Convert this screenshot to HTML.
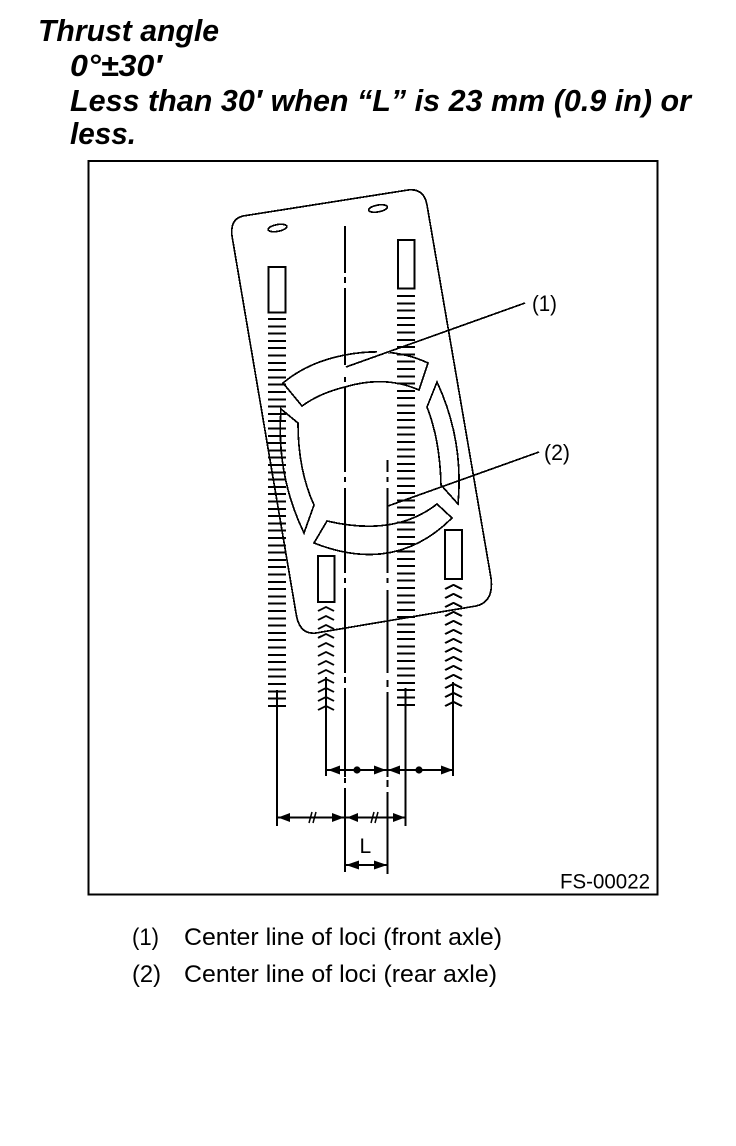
<!DOCTYPE html>
<html>
<head>
<meta charset="utf-8">
<style>
html,body{margin:0;padding:0;background:#fff;width:736px;height:1146px;overflow:hidden}
svg{display:block}
text{font-family:"Liberation Sans",sans-serif;fill:#000}
.t{font-weight:bold;font-style:italic;font-size:31px}
.c{font-size:24px}
.n{font-size:22px}
.s{fill:none;stroke:#000;stroke-width:1.7;shape-rendering:crispEdges}
.l{stroke:#000;stroke-width:1.7;fill:none;shape-rendering:crispEdges}
</style>
</head>
<body>
<svg width="736" height="1146" viewBox="0 0 736 1146" xmlns="http://www.w3.org/2000/svg">
<rect width="736" height="1146" fill="#fff"/>
<text class="t" x="38" y="41" textLength="181" lengthAdjust="spacingAndGlyphs">Thrust angle</text>
<text class="t" x="70" y="76" textLength="92" lengthAdjust="spacingAndGlyphs">0°±30′</text>
<text class="t" x="70" y="111" textLength="621" lengthAdjust="spacingAndGlyphs">Less than 30′ when “L” is 23 mm (0.9 in) or</text>
<text class="t" x="70" y="144" textLength="66" lengthAdjust="spacingAndGlyphs">less.</text>

<rect x="88.5" y="161" width="569" height="733.5" fill="none" stroke="#000" stroke-width="1.7" shape-rendering="crispEdges"/>

<!-- plate -->
<path class="s" d="M243,216 L408,190 Q424,188 427,205 L491,578 Q494,602 476,606 L316,633 Q299,635 296,613 L232,236 Q230,219 243,216 Z"/>
<ellipse class="s" cx="277.5" cy="228" rx="9.5" ry="3.4" transform="rotate(-10 277.5 228)"/>
<ellipse class="s" cx="378" cy="208.5" rx="9.5" ry="3.4" transform="rotate(-10 378 208.5)"/>

<!-- tick columns -->
<g shape-rendering="crispEdges">
<line x1="277" y1="318" x2="277" y2="712" stroke="#000" stroke-width="18" stroke-dasharray="2 5.3"/>
<line x1="406" y1="295" x2="406" y2="711" stroke="#000" stroke-width="18" stroke-dasharray="2 5.3"/>
</g>

<!-- window rects -->
<rect class="s" x="268.5" y="267" width="17" height="45.5"/>
<rect class="s" x="398" y="240" width="16.5" height="48.5"/>
<rect class="s" x="318" y="556" width="16.5" height="46"/>
<rect class="s" x="445" y="530" width="17" height="49"/>

<!-- slots -->
<path class="s" d="M283,383 Q308,362 345,355 Q392,346 428,363 L419,390 Q385,375 345,387 Q320,393 302,406 Z"/>
<path d="M377,351.5H390" stroke="#fff" stroke-width="3" fill="none"/>
<path class="s" d="M437,382 L427,407 Q440,440 441,485 L458,504 Q464,440 437,382 Z"/>
<path class="s" d="M281,409 L298,423 Q298,470 314,505 L304,533 Q276,475 281,409 Z"/>
<path class="s" d="M327,521 Q395,537 437,504 L452,518 Q395,575 314,543 Z"/>

<!-- centre lines -->
<g stroke="#000" stroke-width="2" fill="none" shape-rendering="crispEdges">
<path d="M345,226V273M345,277V283M345,288V365M345,377V382M345,387V472M345,477V482M345,488V573M345,578V583M345,588V673M345,677V683M345,688V777M345,778V783M345,788V872"/>
<path d="M387.5,460V472M387.5,477V482M387.5,488V573M387.5,578V583M387.5,590V673M387.5,680V687M387.5,692V777M387.5,780V787M387.5,792V874"/>
<path d="M277,690V826M326,677V776M405.5,688V826M453,682V776"/>
</g>

<!-- chevrons -->
<g fill="none" stroke="#000" stroke-width="2" shape-rendering="crispEdges">
<path d="M318,611l8,-4l8,4M318,620l8,-4l8,4M318,629l8,-4l8,4M318,638l8,-4l8,4M318,647l8,-4l8,4M318,656l8,-4l8,4M318,665l8,-4l8,4M318,674l8,-4l8,4M318,683l8,-4l8,4M318,692l8,-4l8,4M318,701l8,-4l8,4M318,710l8,-4l8,4"/>
<path d="M445,589l8.5,-4l8.5,4M445,598l8.5,-4l8.5,4M445,607l8.5,-4l8.5,4M445,616l8.5,-4l8.5,4M445,625l8.5,-4l8.5,4M445,634l8.5,-4l8.5,4M445,643l8.5,-4l8.5,4M445,652l8.5,-4l8.5,4M445,661l8.5,-4l8.5,4M445,670l8.5,-4l8.5,4M445,679l8.5,-4l8.5,4M445,688l8.5,-4l8.5,4M445,697l8.5,-4l8.5,4M445,706l8.5,-4l8.5,4"/>
</g>

<!-- leaders -->
<line class="l" x1="346" y1="367" x2="525" y2="303"/>
<line class="l" x1="388" y1="506" x2="539" y2="452"/>

<!-- dimensions -->
<g stroke="#000" stroke-width="2" shape-rendering="crispEdges">
<line x1="327" y1="770" x2="453" y2="770"/>
<line x1="277" y1="817.5" x2="405" y2="817.5"/>
<line x1="346" y1="865" x2="387" y2="865"/>
</g>
<g fill="#000">
<path d="M328,770l12,-4.5v9zM386,770l-12,-4.5v9zM388,770l12,-4.5v9zM453,770l-12,-4.5v9z"/>
<circle cx="357" cy="770" r="3.6"/><circle cx="419" cy="770" r="3.6"/>
<path d="M278,817.5l12,-4.5v9zM344,817.5l-12,-4.5v9zM347,817.5l11,-4.5v9zM405,817.5l-12,-4.5v9z"/>
<path d="M346,865l13,-4.5v9zM387,865l-13,-4.5v9z"/>
</g>
<g stroke="#000" stroke-width="1.5">
<path d="M309,823l3,-11M313,823l3,-11M371,823l3,-11M375,823l3,-11"/>
</g>

<text x="359.5" y="853" font-size="21">L</text>
<text class="n" x="532" y="311" textLength="25" lengthAdjust="spacingAndGlyphs">(1)</text>
<text class="n" x="544" y="460" textLength="26" lengthAdjust="spacingAndGlyphs">(2)</text>
<text x="560" y="888.5" font-size="21" textLength="90" lengthAdjust="spacingAndGlyphs">FS-00022</text>

<text class="c" x="132" y="945" textLength="27" lengthAdjust="spacingAndGlyphs">(1)</text>
<text class="c" x="184" y="945" textLength="318" lengthAdjust="spacingAndGlyphs">Center line of loci (front axle)</text>
<text class="c" x="132" y="982" textLength="29" lengthAdjust="spacingAndGlyphs">(2)</text>
<text class="c" x="184" y="982" textLength="313" lengthAdjust="spacingAndGlyphs">Center line of loci (rear axle)</text>
</svg>
</body>
</html>
